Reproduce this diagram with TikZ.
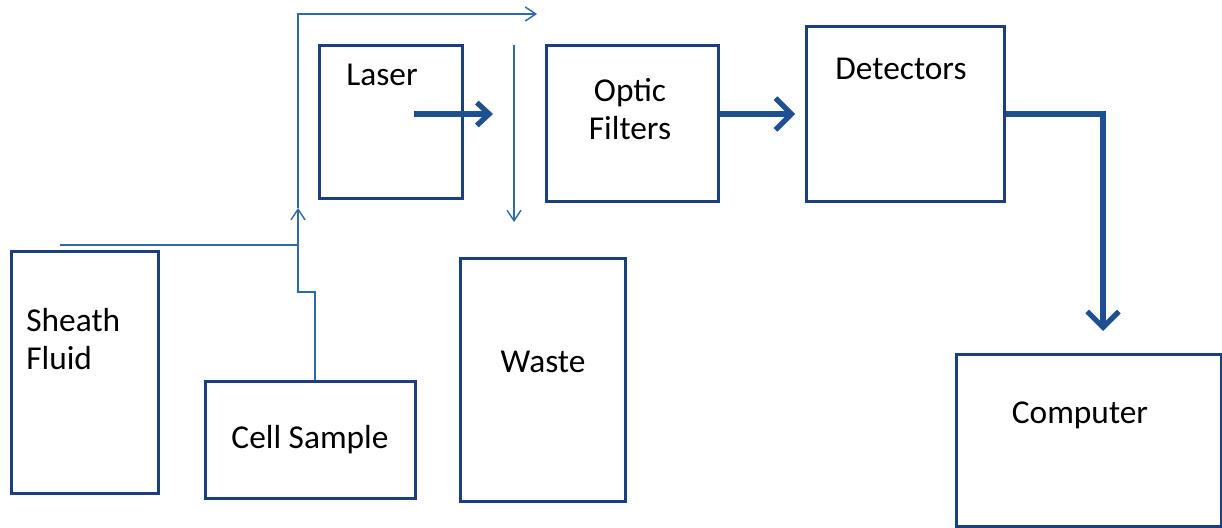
\documentclass[tikz,border=0pt]{standalone}
\usepackage{fontspec}
\setmainfont{Carlito}
\usetikzlibrary{arrows.meta}
\definecolor{boxc}{HTML}{1B3F7C}
\definecolor{thinc}{HTML}{2F6AA8}
\definecolor{thickc}{HTML}{1E4F91}
\begin{document}
\begin{tikzpicture}[x=0.02cm,y=-0.02cm,
  box/.style={draw=boxc, line width=1.6pt, inner sep=0pt, anchor=north west},
  lbl/.style={font=\fontsize{19}{21.6}\selectfont, text=black, inner sep=0pt},
  thinline/.style={draw=thinc, line width=0.8pt},
  thinarrow/.style={thinline, -{Straight Barb[length=6pt,width=8pt,line width=0.8pt]}},
  thickarrow/.style={draw=thickc, line width=3pt, -{Straight Barb[length=9pt,width=18pt]}},
  smallthick/.style={draw=thickc, line width=3pt, -{Straight Barb[length=7pt,width=13pt]}}]
\useasboundingbox (0,0) rectangle (1222,527);
% boxes
\node[box, minimum width=2.94cm, minimum height=4.84cm] (sheath) at (10,250) {};
\node[box, minimum width=4.2cm, minimum height=2.34cm] (cell) at (204,380) {};
\node[box, minimum width=3.3cm, minimum height=4.86cm] (waste) at (459,257) {};
\node[box, minimum width=2.86cm, minimum height=3.06cm] (laser) at (318,44) {};
\node[box, minimum width=3.44cm, minimum height=3.12cm] (optic) at (545,44) {};
\node[box, minimum width=3.96cm, minimum height=3.5cm] (det) at (805,25) {};
\node[box, minimum width=5.3cm, minimum height=3.44cm] (comp) at (955,353) {};
% labels
\node[lbl] (tlaser) at (382,75) {Laser};
\node[lbl, align=left, anchor=west] (tsheath) at (26,339) {Sheath\\Fluid};
\node[lbl] (tcell) at (310,440) {Cell Sample};
\node[lbl] (twaste) at (543,362) {Waste};
\node[lbl, align=center] (toptic) at (630,109) {Optic\\Filters};
\node[lbl] (tdet) at (901,69) {Detectors};
\node[lbl] (tcomp) at (1080,415) {Computer};
% thin flow lines
\coordinate (sf) at (60,245);
\coordinate (j) at (298,245);
\coordinate (jm) at (298,208);
\coordinate (top) at (298,14);
\coordinate (topend) at (537,14);
\coordinate (cst) at (315,292);
\coordinate (dtop) at (514,45);
\coordinate (dbot) at (514,222);
\draw[thinline] (sf) -- (j);
\draw[thinline] (cst |- cell.north) -- (cst) -| (j);
\draw[thinarrow] (j) -- (jm);
\draw[thinarrow] (jm) -- (top) -- (topend);
\draw[thinarrow] (dtop) -- (dbot);
% thick arrows
\coordinate (ay) at (0,114);
\coordinate (ls) at (414,114);
\coordinate (le) at (493,114);
\coordinate (cx) at (1103,114);
\coordinate (ctip) at (1103,331);
\draw[smallthick] (ls) -- (le);
\draw[thickarrow] (optic.east |- ay) -- (795,114);
\draw[thickarrow] (det.east |- ay) -- (cx) -- (ctip);
\end{tikzpicture}
\end{document}
